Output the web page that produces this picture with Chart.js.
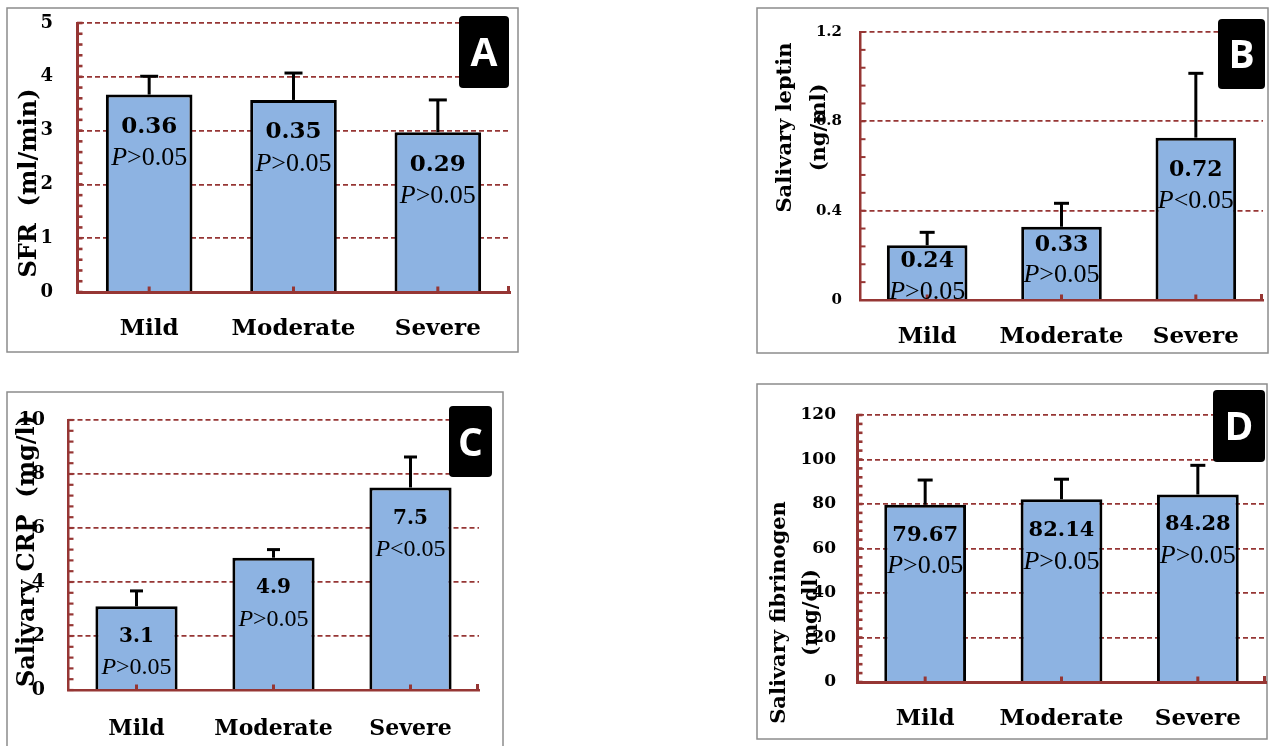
<!DOCTYPE html>
<html><head><meta charset="utf-8">
<script src="https://cdn.jsdelivr.net/npm/chart.js@4.4.1/dist/chart.umd.min.js"></script>
<style>
html,body{margin:0;padding:0;background:#fff;width:1270px;height:746px;overflow:hidden;position:relative}
canvas{position:absolute}
</style></head><body>
<canvas id="cA"></canvas><canvas id="cB"></canvas><canvas id="cC"></canvas><canvas id="cD"></canvas>
<script>
// ---------- DATA ----------
const categories = ['Mild', 'Moderate', 'Severe'];

const sfrValues = [3.67, 3.57, 2.97];
const sfrErrors = [0.34, 0.50, 0.60];
const sfrLabels = ['0.36', '0.35', '0.29'];
const sfrP = ['P>0.05', 'P>0.05', 'P>0.05'];
const sfrTicks = [0, 1, 2, 3, 4, 5];
const sfrTickLabels = ['0', '1', '2', '3', '4', '5'];

const leptinValues = [0.245, 0.328, 0.727];
const leptinErrors = [0.058, 0.105, 0.288];
const leptinLabels = ['0.24', '0.33', '0.72'];
const leptinP = ['P>0.05', 'P>0.05', 'P<0.05'];
const leptinTicks = [0, 0.4, 0.8, 1.2];
const leptinTickLabels = ['0', '0.4', '0.8', '1.2'];

const crpValues = [3.1, 4.9, 7.5];
const crpErrors = [0.57, 0.30, 1.13];
const crpLabels = ['3.1', '4.9', '7.5'];
const crpP = ['P>0.05', 'P>0.05', 'P<0.05'];
const crpTicks = [0, 2, 4, 6, 8, 10];
const crpTickLabels = ['0', '2', '4', '6', '8', '10'];

const fibValues = [79.67, 82.14, 84.28];
const fibErrors = [11.1, 9.0, 13.1];
const fibLabels = ['79.67', '82.14', '84.28'];
const fibP = ['P>0.05', 'P>0.05', 'P>0.05'];
const fibTicks = [0, 20, 40, 60, 80, 100, 120];
const fibTickLabels = ['0', '20', '40', '60', '80', '100', '120'];

// ---------- STYLE ----------
const SERIF = "'DejaVu Serif', serif";
const PSERIF = "'Liberation Serif', serif";
const AXIS = '#963634';
const BAR = '#8DB3E2';

const panels = [
  { id: 'cA', letter: 'A', title: ['SFR  (ml/min)'], values: sfrValues, errors: sfrErrors, labels: sfrLabels, p: sfrP,
    ticks: sfrTicks, tickLabels: sfrTickLabels, minor: 0.2,
    box: {l: 7, t: 8, r: 518, b: 352}, area: {l: 77, t: 23, r: 510, b: 292},
    tickFont: 18, tickPad: 24, xFont: 23, xPad: 15, valFont: 23, pFont: 26,
    labelDy: [[30, 62], [30, 62], [30, 62]],
    titleFont: 24, titleXs: [30], titleY: 183,
    letterBox: {l: 459, t: 16, r: 509, b: 88}, axisW: 3, tickW: 2.6, capW: 18, errW: 3 },
  { id: 'cB', letter: 'B', title: ['Salivary leptin', '(ng/ml)'], values: leptinValues, errors: leptinErrors, labels: leptinLabels, p: leptinP,
    ticks: leptinTicks, tickLabels: leptinTickLabels, minor: 0.08,
    box: {l: 757, t: 8, r: 1268, b: 353}, area: {l: 860, t: 32, r: 1263, b: 300},
    tickFont: 15, tickPad: 18, xFont: 23, xPad: 15, valFont: 22, pFont: 26,
    labelDy: [[14, 45], [16, 47], [30, 62]],
    titleFont: 21, titleXs: [786, 820], titleY: 127.5,
    letterBox: {l: 1218, t: 19, r: 1265, b: 89}, axisW: 2.5, tickW: 2, capW: 15, errW: 3 },
  { id: 'cC', letter: 'C', title: ['Salivary CRP  (mg/l)'], values: crpValues, errors: crpErrors, labels: crpLabels, p: crpP,
    ticks: crpTicks, tickLabels: crpTickLabels, minor: 0.4,
    box: {l: 7, t: 392, r: 503, b: 760}, area: {l: 68, t: 420, r: 479, b: 690},
    tickFont: 19, tickPad: 23, xFont: 22, xPad: 18, valFont: 20, pFont: 24,
    labelDy: [[28, 60], [28, 60], [29, 61]],
    titleFont: 24, titleXs: [28], titleY: 551,
    letterBox: {l: 449, t: 406, r: 492, b: 477}, axisW: 2.5, tickW: 2.2, capW: 13, errW: 3 },
  { id: 'cD', letter: 'D', title: ['Salivary fibrinogen', '(mg/dl)'], values: fibValues, errors: fibErrors, labels: fibLabels, p: fibP,
    ticks: fibTicks, tickLabels: fibTickLabels, minor: 4,
    box: {l: 757, t: 384, r: 1267, b: 739}, area: {l: 857, t: 415, r: 1266, b: 682},
    tickFont: 17, tickPad: 21, xFont: 23, xPad: 15, valFont: 21, pFont: 26,
    labelDy: [[29, 60], [29, 61], [28, 60]],
    titleFont: 21, titleXs: [780, 812], titleY: 612.5,
    letterBox: {l: 1213, t: 390, r: 1265, b: 462}, axisW: 3, tickW: 2.6, capW: 15, errW: 3 }
];

function makePanel(P) {
  const canvas = document.getElementById(P.id);
  const ox = P.box.l - 1, oy = P.box.t - 1;
  const W = P.box.r - P.box.l + 2, H = P.box.b - P.box.t + 2;
  canvas.width = W; canvas.height = H;
  canvas.style.left = ox + 'px'; canvas.style.top = oy + 'px';
  canvas.style.width = W + 'px'; canvas.style.height = H + 'px';
  const yWidth = P.area.l - ox;
  const xHeight = oy + H - P.area.b;
  const padTop = P.area.t - oy;
  const padRight = ox + W - P.area.r;
  const maxV = P.ticks[P.ticks.length - 1];

  const decor = {
    id: 'decor' + P.letter,
    beforeDraw(chart) {
      const ctx = chart.ctx;
      ctx.save();
      ctx.fillStyle = '#fff';
      ctx.fillRect(0, 0, W, H);
      ctx.strokeStyle = '#8c8c8c';
      ctx.lineWidth = 1.5;
      ctx.strokeRect(1, 1, W - 2, H - 2);
      ctx.restore();
    },
    afterDraw(chart) {
      const ctx = chart.ctx;
      const ys = chart.scales.y, xs = chart.scales.x;
      const ca = chart.chartArea;
      const meta = chart.getDatasetMeta(0);
      ctx.save();
      // minor ticks on y axis
      ctx.strokeStyle = AXIS;
      ctx.lineWidth = P.tickW;
      const n = Math.round(maxV / P.minor);
      for (let k = 0; k <= n; k++) {
        const py = ys.getPixelForValue(k * P.minor);
        ctx.beginPath(); ctx.moveTo(ca.left, py); ctx.lineTo(ca.left + 5.5, py); ctx.stroke();
      }
      // x ticks at category centres and right end
      ctx.lineWidth = 3;
      categories.forEach((c, i) => {
        const px = xs.getPixelForValue(i);
        ctx.beginPath(); ctx.moveTo(px, ca.bottom); ctx.lineTo(px, ca.bottom - 5.5); ctx.stroke();
      });
      ctx.beginPath(); ctx.moveTo(ca.right - 1.5, ca.bottom); ctx.lineTo(ca.right - 1.5, ca.bottom - 6); ctx.stroke();
      // error bars
      ctx.strokeStyle = '#000';
      ctx.lineWidth = P.errW;
      meta.data.forEach((bar, i) => {
        const capY = ys.getPixelForValue(P.values[i] + P.errors[i]);
        ctx.beginPath(); ctx.moveTo(bar.x, bar.y); ctx.lineTo(bar.x, capY); ctx.stroke();
        ctx.beginPath(); ctx.moveTo(bar.x - P.capW / 2, capY); ctx.lineTo(bar.x + P.capW / 2, capY); ctx.stroke();
      });
      // value labels and P labels
      ctx.fillStyle = '#000';
      ctx.textBaseline = 'alphabetic';
      meta.data.forEach((bar, i) => {
        const dy = P.labelDy[i];
        ctx.font = 'bold ' + P.valFont + 'px ' + SERIF;
        ctx.textAlign = 'center';
        ctx.fillText(P.labels[i], bar.x, bar.y + dy[0] + P.valFont * 0.365);
        const s = P.p[i];
        const first = s.charAt(0), rest = s.slice(1);
        const fi = 'italic ' + P.pFont + 'px ' + PSERIF;
        const fr = P.pFont + 'px ' + PSERIF;
        ctx.font = fi; const w1 = ctx.measureText(first).width;
        ctx.font = fr; const w2 = ctx.measureText(rest).width;
        const x0 = bar.x - (w1 + w2) / 2;
        const by = bar.y + dy[1] + P.pFont * 0.33;
        ctx.textAlign = 'left';
        ctx.font = fi; ctx.fillText(first, x0, by);
        ctx.font = fr; ctx.fillText(rest, x0 + w1, by);
      });
      // y axis title
      ctx.font = 'bold ' + P.titleFont + 'px ' + SERIF;
      ctx.textAlign = 'center';
      ctx.textBaseline = 'middle';
      P.title.forEach((t, i) => {
        ctx.save();
        ctx.translate(P.titleXs[i] - ox, P.titleY - oy);
        ctx.rotate(-Math.PI / 2);
        ctx.fillText(t, 0, 0);
        ctx.restore();
      });
      // letter box
      const lb = P.letterBox;
      ctx.fillStyle = '#000';
      ctx.beginPath();
      ctx.roundRect(lb.l - ox, lb.t - oy, lb.r - lb.l, lb.b - lb.t, 4);
      ctx.fill();
      ctx.fillStyle = '#fff';
      ctx.font = "bold 39px 'Open Sans', sans-serif";
      ctx.textAlign = 'center';
      ctx.textBaseline = 'alphabetic';
      ctx.fillText(P.letter, (lb.l + lb.r) / 2 - ox, (lb.t + lb.b) / 2 - oy + 14);
      ctx.restore();
    }
  };

  return new Chart(canvas, {
    type: 'bar',
    data: {
      labels: categories,
      datasets: [{
        data: P.values,
        backgroundColor: BAR,
        borderColor: '#000',
        borderWidth: 3,
        borderSkipped: 'bottom',
        barPercentage: 0.6,
        categoryPercentage: 1
      }]
    },
    options: {
      responsive: false,
      animation: false,
      devicePixelRatio: 1,
      layout: {padding: {left: 0, top: padTop, right: padRight, bottom: 0}},
      plugins: {legend: {display: false}, tooltip: {enabled: false}},
      scales: {
        x: {
          z: 1,
          grid: {display: false},
          border: {display: true, color: AXIS, width: P.axisW},
          ticks: {color: '#000', padding: P.xPad, maxRotation: 0, autoSkip: false,
                  font: {family: SERIF, size: P.xFont, weight: 'bold'}},
          afterFit: s => { s.height = xHeight; s.paddingLeft = 0; s.paddingRight = 0; }
        },
        y: {
          min: 0, max: maxV,
          grid: {color: AXIS, lineWidth: 1.8, drawTicks: false},
          border: {display: true, color: AXIS, width: P.axisW, dash: [5, 3]},
          ticks: {color: '#000', padding: P.tickPad,
                  font: {family: SERIF, size: P.tickFont, weight: 'bold'},
                  callback: (v) => { const k = P.ticks.indexOf(v); return k >= 0 ? P.tickLabels[k] : ''; }},
          afterBuildTicks: s => { s.ticks = P.ticks.map(v => ({value: v})); },
          afterFit: s => { s.width = yWidth; s.paddingTop = 0; s.paddingBottom = 0; }
        }
      }
    },
    plugins: [decor]
  });
}

panels.forEach(makePanel);
</script>
</body></html>
